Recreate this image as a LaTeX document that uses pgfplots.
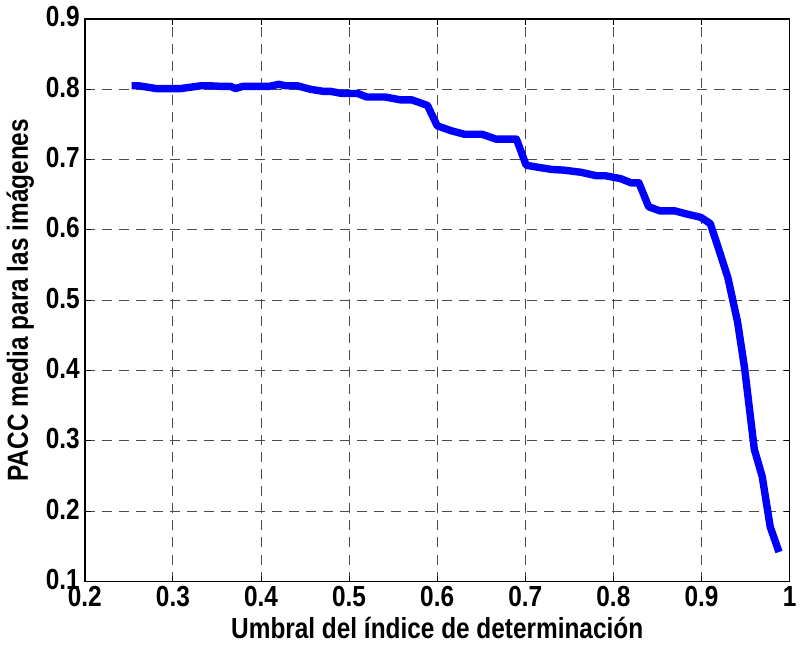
\documentclass[border=0pt]{standalone}
\usepackage{fontspec}
\setmainfont{Liberation Sans}[FakeStretch=0.84]
\usepackage{pgfplots}
\pgfplotsset{compat=1.18}

\begin{document}
\begin{tikzpicture}
\begin{axis}[
    scale only axis,
    width=352pt, height=281pt,
    xmin=0.2, xmax=1, ymin=0.1, ymax=0.9,
    xtick={0.2,0.3,...,1.0}, ytick={0.1,0.2,...,0.9},
    xticklabels={0.2,0.3,0.4,0.5,0.6,0.7,0.8,0.9,1},
    yticklabels={0.1,0.2,0.3,0.4,0.5,0.6,0.7,0.8,0.9},
    tick align=inside, ticks=both, tick pos=both,
    major tick length=3pt,
    grid=major,
    major grid style={black!70, dash pattern=on 5pt off 3.5pt, line width=0.5pt},
    axis line style={line width=0.9pt},
    every tick/.style={black, line width=0.5pt},
    tick label style={font=\fontsize{14.5}{15}\selectfont\bfseries},
    label style={font=\fontsize{14.5}{15}\selectfont\bfseries},
    xlabel={Umbral del índice de determinación},
    ylabel={PACC media para las imágenes},
    xlabel style={yshift=2pt},
    ylabel style={yshift=-1pt},
    xticklabel style={yshift=1pt},
    yticklabel style={xshift=1pt, yshift=1pt},
    /pgf/number format/assume math mode=true,
]
\addplot[color=blue, line width=3.7pt, line join=round] coordinates {
    (0.253,0.805) (0.261,0.805) (0.281,0.801) (0.309,0.801) (0.332,0.805)
    (0.341,0.805) (0.357,0.804) (0.366,0.804) (0.371,0.801) (0.379,0.804)
    (0.409,0.804) (0.420,0.807) (0.428,0.805) (0.441,0.805) (0.456,0.800)
    (0.471,0.797) (0.479,0.797) (0.492,0.794) (0.510,0.794) (0.520,0.789)
    (0.541,0.789) (0.558,0.785) (0.571,0.785) (0.589,0.777) (0.600,0.748)
    (0.616,0.741) (0.631,0.736) (0.651,0.736) (0.667,0.729) (0.690,0.729)
    (0.701,0.692) (0.710,0.690) (0.730,0.686) (0.744,0.685) (0.763,0.682)
    (0.781,0.677) (0.791,0.677) (0.808,0.673) (0.820,0.667) (0.829,0.667)
    (0.840,0.633) (0.853,0.627) (0.870,0.627) (0.882,0.623) (0.899,0.618)
    (0.910,0.609) (0.919,0.575) (0.930,0.532) (0.941,0.469) (0.949,0.403)
    (0.960,0.288) (0.969,0.249) (0.978,0.178) (0.988,0.142)
};
\end{axis}
\end{tikzpicture}
\end{document}
